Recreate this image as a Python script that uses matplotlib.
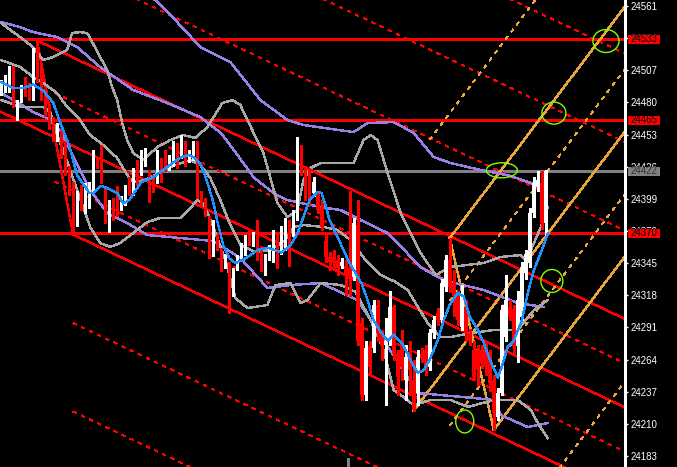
import matplotlib.pyplot as plt
import matplotlib.transforms as mtransforms
from matplotlib.patches import Ellipse, Rectangle

plt.rcParams["lines.antialiased"] = False
plt.rcParams["patch.antialiased"] = False

# --------------------------------------------------------------
# Candles (bar index = position, prices)
# --------------------------------------------------------------
opens = [24490, 24490, 24493, 24505, 24472, 24482, 24499, 24495, 24485, 24528,
         24507, 24489, 24475, 24465, 24450, 24453, 24444, 24423, 24408, 24379,
         24405, 24390, 24394, 24408, 24432, 24434, 24405, 24379, 24396, 24406,
         24392, 24396, 24412, 24406, 24427, 24422, 24430, 24419, 24417, 24415,
         24430, 24433, 24425, 24430, 24442, 24436, 24442, 24433, 24434, 24446,
         24404, 24396, 24383, 24353, 24366, 24354, 24343, 24343, 24321, 24341,
         24350, 24354, 24370, 24362, 24366, 24356, 24341, 24350, 24349, 24364,
         24356, 24359, 24379, 24370, 24384, 24440, 24423, 24415, 24404, 24404,
         24392, 24364, 24350, 24350, 24348, 24343, 24343, 24341, 24333, 24377,
         24295, 24234, 24275, 24274, 24310, 24286, 24276, 24280, 24308, 24269,
         24280, 24247, 24269, 24247, 24236, 24269, 24272, 24258, 24286, 24303,
         24297, 24325, 24348, 24328, 24317, 24291, 24308, 24286, 24272, 24272,
         24272, 24275, 24266, 24247, 24216, 24236, 24283, 24308, 24306, 24275,
         24300, 24337, 24345, 24387, 24409, 24412, 24379]
highs = [24499, 24503, 24511, 24511, 24482, 24495, 24501, 24496, 24526, 24532,
         24511, 24492, 24479, 24468, 24463, 24457, 24448, 24427, 24413, 24406,
         24411, 24412, 24413, 24440, 24434, 24444, 24408, 24398, 24400, 24410,
         24401, 24411, 24417, 24425, 24432, 24440, 24442, 24423, 24419, 24440,
         24433, 24440, 24436, 24448, 24446, 24453, 24448, 24440, 24448, 24448,
         24406, 24400, 24385, 24381, 24369, 24358, 24353, 24346, 24341, 24352,
         24362, 24369, 24373, 24371, 24381, 24359, 24353, 24360, 24373, 24369,
         24376, 24383, 24381, 24390, 24451, 24444, 24427, 24425, 24417, 24406,
         24398, 24369, 24354, 24356, 24352, 24349, 24348, 24406, 24383, 24398,
         24299, 24280, 24280, 24314, 24314, 24289, 24299, 24322, 24310, 24272,
         24289, 24276, 24280, 24264, 24272, 24274, 24276, 24290, 24301, 24307,
         24332, 24352, 24366, 24339, 24322, 24327, 24314, 24290, 24280, 24276,
         24276, 24280, 24272, 24251, 24240, 24310, 24335, 24314, 24310, 24322,
         24346, 24356, 24391, 24417, 24422, 24422, 24423]
lows = [24486, 24489, 24489, 24476, 24465, 24480, 24485, 24482, 24482, 24497,
        24482, 24469, 24458, 24448, 24448, 24433, 24419, 24402, 24369, 24376,
        24390, 24387, 24391, 24405, 24425, 24412, 24379, 24371, 24381, 24385,
        24390, 24394, 24402, 24402, 24411, 24419, 24427, 24396, 24405, 24412,
        24413, 24422, 24423, 24427, 24425, 24433, 24427, 24430, 24432, 24400,
        24393, 24385, 24349, 24351, 24356, 24338, 24341, 24303, 24317, 24339,
        24348, 24352, 24360, 24359, 24348, 24338, 24335, 24348, 24346, 24341,
        24353, 24356, 24343, 24368, 24381, 24419, 24398, 24393, 24401, 24387,
        24373, 24346, 24339, 24341, 24335, 24341, 24318, 24317, 24331, 24276,
        24230, 24230, 24253, 24270, 24280, 24264, 24226, 24276, 24264, 24234,
        24247, 24230, 24234, 24221, 24226, 24262, 24251, 24255, 24282, 24293,
        24295, 24322, 24321, 24301, 24293, 24289, 24280, 24276, 24247, 24243,
        24257, 24251, 24238, 24205, 24213, 24234, 24280, 24297, 24268, 24262,
        24297, 24332, 24342, 24384, 24406, 24374, 24369]
closes = [24495, 24500, 24507, 24480, 24480, 24492, 24486, 24485, 24522, 24500,
          24484, 24472, 24461, 24451, 24458, 24436, 24422, 24405, 24377, 24404,
          24394, 24405, 24410, 24436, 24427, 24415, 24383, 24394, 24385, 24387,
          24395, 24405, 24406, 24422, 24413, 24436, 24436, 24408, 24408, 24436,
          24417, 24425, 24429, 24442, 24427, 24450, 24430, 24436, 24446, 24402,
          24396, 24390, 24352, 24377, 24360, 24343, 24350, 24318, 24338, 24348,
          24358, 24366, 24363, 24369, 24350, 24341, 24350, 24358, 24369, 24345,
          24373, 24379, 24350, 24387, 24440, 24423, 24400, 24396, 24413, 24390,
          24375, 24350, 24346, 24345, 24341, 24346, 24335, 24332, 24379, 24280,
          24234, 24274, 24258, 24310, 24286, 24275, 24280, 24308, 24269, 24249,
          24258, 24266, 24255, 24222, 24266, 24265, 24255, 24286, 24297, 24297,
          24328, 24348, 24325, 24317, 24297, 24320, 24286, 24280, 24249, 24255,
          24261, 24258, 24244, 24219, 24236, 24306, 24314, 24300, 24275, 24314,
          24342, 24353, 24387, 24412, 24415, 24379, 24422]

# fast moving average (blue)
ma_bars = [0, 3, 5.5, 8, 10.5, 13, 15, 17, 19, 22, 23, 25, 26.5, 29, 30.5, 32, 35, 38,
           41.5, 45, 47, 48.5, 50, 51.5, 53, 54, 55.5, 57, 58.5, 61.5, 64, 66.5, 70,
           72, 74, 75.5, 77, 79, 80, 81, 82, 84, 85.5, 87, 90, 91.5, 93, 95, 96.5,
           98, 100, 101.5, 103, 104, 105.5, 107, 109, 110.5, 112, 114, 115.5, 117,
           119, 120.5, 122, 124, 125, 126.5, 128, 130, 131.5, 133, 135, 136.5]
ma_vals = [24497, 24492, 24492, 24495, 24490, 24480, 24461, 24444, 24419, 24404,
           24404, 24410, 24408, 24404, 24395, 24398, 24413, 24417, 24426, 24434,
           24436, 24433, 24427, 24413, 24396, 24380, 24360, 24349, 24345, 24350,
           24356, 24358, 24354, 24359, 24370, 24384, 24398, 24405, 24404, 24394,
           24381, 24367, 24356, 24345, 24328, 24314, 24297, 24286, 24280, 24285,
           24278, 24269, 24258, 24253, 24255, 24264, 24280, 24297, 24310, 24320,
           24317, 24300, 24289, 24278, 24264, 24249, 24258, 24275, 24280, 24297,
           24320, 24339, 24356, 24370]

# purple bands (upper / middle / lower)
pu_bars = [32.25, 38.5, 43.5, 49.75, 57.25, 64.75, 71.5, 75.5, 88, 91.5, 98, 103,
           108, 112.25, 119.75, 127.25, 132.25, 136]
pu_vals = [24578.6, 24566, 24549.2, 24526.5, 24513.9, 24482, 24465.2, 24461,
           24455.1, 24462.7, 24463.5, 24454.3, 24434.1, 24429.1, 24423.2, 24418.2,
           24412.3, 24408.1]
pm_bars = [0, 4.75, 8, 14, 19, 24.75, 33, 41.5, 49.75, 55, 59, 63, 68, 71.5, 79.75,
           84.75, 89.75, 96.5, 104.75, 109, 112.25, 120.5, 129, 135.5]
pm_vals = [24547.5, 24543.3, 24539.1, 24534.9, 24526.5, 24509.7, 24490.4, 24479.5,
           24467.7, 24454, 24436, 24417.3, 24403.9, 24398, 24392.1, 24389.6, 24381.2,
           24370.3, 24341.7, 24333.3, 24329.1, 24322.4, 24311.5, 24308.1]
pl_bars = [0, 4, 8, 11.5, 14.75, 18.5, 22.25, 26.5, 31.5, 36.5, 44.75, 53, 59.75,
           66.5, 72.25, 79.75, 89, 95.5, 104, 109.75, 118, 123, 124.75, 131.5, 136.5]
pl_vals = [24487.9, 24480.3, 24471.9, 24466.9, 24456.8, 24431.6, 24406.4, 24387.1,
           24378.7, 24368.6, 24366.1, 24363.6, 24349.3, 24324.1, 24326.6, 24328.3,
           24314, 24280.4, 24235.9, 24234.2, 24231.7, 24230, 24217.4, 24207.3,
           24210.7]

# gray bands (upper / middle / lower)
gu_bars = [0, 4.75, 8, 10.5, 13, 16.5, 17.75, 19.75, 21.5, 22.75, 24.75, 26.5, 27.75,
           29, 30.25, 31.5, 33, 35.5, 39, 42.25, 45.5, 48.5, 51.5, 55.25, 57.75,
           59.75, 61.5, 65.5, 69, 71.5, 74, 75.5, 77.25, 79.75, 88, 90.5, 92.25, 94,
           96.5, 99.75, 104.75, 108.5, 112.25, 120.5, 124.75, 129.75, 131, 132.25,
           134.75, 136.5]
gu_vals = [24546.7, 24534.9, 24526.5, 24515.6, 24518.1, 24524.0, 24538.3, 24539.1,
           24538.3, 24530.8, 24518.1, 24507.2, 24492.9, 24482.0, 24462.7, 24448.4,
           24437.5, 24431.6, 24442.5, 24448.4, 24452.6, 24450.1, 24459.3, 24479.5,
           24482.0, 24477.8, 24465.2, 24437.5, 24395.5, 24383.7, 24389.6, 24414.8,
           24424.9, 24429.1, 24429.1, 24448.4, 24452.6, 24448.4, 24420.7, 24387.1,
           24353.5, 24335.0, 24341.8, 24345.1, 24350.2, 24351.8, 24347.6, 24356.0,
           24375.3, 24392.2]
gm_bars = [0, 4.75, 8, 10.5, 14, 16.5, 19.75, 22.25, 25.5, 29, 31.5, 33, 36, 39.75,
           43.5, 47.25, 49.75, 52.25, 54.75, 57.25, 59.75, 63.5, 67.25, 71, 73, 75.5,
           80.5, 84, 87.25, 91, 94.75, 98.5, 101.5, 106.5, 109.75, 112.25, 117.25,
           123, 129, 133, 136.5]
gm_vals = [24515.6, 24509.8, 24501.4, 24496.3, 24487.9, 24476.1, 24465.2, 24452.6,
           24444.2, 24433.3, 24419.0, 24413.2, 24414.8, 24421.5, 24427.4, 24431.6,
           24427.4, 24416.5, 24398.0, 24377.0, 24360.2, 24354.3, 24356.0, 24364.4,
           24375.4, 24377.0, 24375.4, 24372.8, 24364.4, 24347.6, 24335.0, 24329.2,
           24322.4, 24294.7, 24282.9, 24282.9, 24286.3, 24288.8, 24288.8, 24305.6,
           24314.0]
gl_bars = [0, 2.25, 4.75, 10.5, 12.25, 14, 15.5, 19, 22.25, 24.75, 27.25, 29.75, 33,
           36.5, 39.75, 44.75, 47.25, 49, 50.5, 53, 56, 58.5, 61.5, 66.5, 68.5, 72.25,
           74.75, 76.5, 79.75, 84.75, 88.5, 92.25, 95.5, 98, 100.5, 103, 107.25,
           112.25, 116.5, 123, 129, 132.25, 134, 136.5]
gl_vals = [24482.0, 24479.5, 24476.1, 24476.1, 24472.0, 24452.6, 24440.0, 24406.4,
           24375.4, 24361.9, 24358.6, 24361.9, 24370.3, 24379.5, 24382.9, 24382.9,
           24391.3, 24398.0, 24395.5, 24375.4, 24347.6, 24315.7, 24307.3, 24309.8,
           24326.6, 24328.3, 24311.5, 24314.0, 24328.3, 24326.6, 24320.8, 24297.2,
           24272.0, 24238.4, 24232.5, 24225.8, 24230.0, 24230.0, 24224.2, 24230.0,
           24230.0, 24221.6, 24210.7, 24198.0]

# horizontal levels
red_levels = [24533, 24465, 24370]
last_price = 24422

# down channel (red): top pivot, bottom pivot, slope per bar
red_top = (9, 24532)
red_bottom = (18, 24369)
red_slope = -1.594

# up pitchfork (orange): handle, upper pivot, lower pivot
pf_handle = (103, 24221)
pf_upper = (112, 24366)
pf_lower = (123, 24205)

# green marks
ell_x = [151, 138, 125, 137.5, 115.75]
ell_y = [24531.6, 24471, 24423, 24330, 24212]
ell_w = [6.5, 6.0, 7.75, 5.5, 4.5]
ell_h = [19.3, 18.5, 12.6, 19.3, 19.3]

# session separator stub at the bottom
separator_bar = 86.5

axis_ticks = [24561 - 27 * k for k in range(15)]

RED = "#ff0000"
ORANGE = "#e9a53a"
PURPLE = "#9a80e6"
GRAY = "#a8a8a8"
BLUE = "#1e90ff"
GREEN = "#80ff00"

# --------------------------------------------------------------
# Figure
# --------------------------------------------------------------
fig = plt.figure(figsize=(6.77, 4.67), dpi=100, facecolor="black")
ax = fig.add_axes([0, 0, 625 / 677, 1])
ax.set_facecolor("black")
x_end = 155.75
ax.set_xlim(-0.25, x_end)
ax.set_ylim(24173.76, 24566.04)

for v in red_levels:
    ax.axhline(v, color=RED, lw=1, zorder=1)
ax.axhline(last_price, color="#808080", lw=1, zorder=1)
ax.axvline(separator_bar, ymin=0, ymax=0.018, color="#808080", lw=1, zorder=1)

# red channel
dash = (0, (2.2, 4.0))
gap = (red_top[1] - red_bottom[1]) + red_slope * (red_bottom[0] - red_top[0])
q = gap / 4
for k, ls, start in [(-6, dash, 9), (-4, dash, 9), (-2, dash, 9), (0, "-", 9),
                     (1, dash, 13.5), (2, "-", -1), (3, dash, 13.5), (4, "-", 18),
                     (6, dash, 18), (8, dash, 18)]:
    y0 = red_top[1] + red_slope * (start - red_top[0]) - k * q
    y1 = red_top[1] + red_slope * (x_end - red_top[0]) - k * q
    ax.plot([start, x_end], [y0, y1], color=RED, lw=1, linestyle=ls, zorder=2)
ax.plot([red_top[0], red_bottom[0]], [red_top[1], red_bottom[1]], color=RED, lw=1, zorder=2)

# orange pitchfork
mid = ((pf_upper[0] + pf_lower[0]) / 2, (pf_upper[1] + pf_lower[1]) / 2)
s = (mid[1] - pf_handle[1]) / (mid[0] - pf_handle[0])
half = (pf_upper[1] - pf_handle[1] - s * (pf_upper[0] - pf_handle[0])) / 2
for h, ls, start in [(4, dash, 107), (2, "-", 112), (1, dash, 112), (0, "-", 103),
                     (-1, dash, 112), (-2, "-", 123), (-4, dash, 123)]:
    y0 = pf_handle[1] + s * (start - pf_handle[0]) + h * half
    y1 = pf_handle[1] + s * (x_end - pf_handle[0]) + h * half
    ax.plot([start, x_end], [y0, y1], color=ORANGE, lw=1, linestyle=ls, zorder=2)
ax.plot([pf_upper[0], pf_lower[0]], [pf_upper[1], pf_lower[1]], color=ORANGE, lw=1, zorder=2)

# bands
for bx, by, c in [(pu_bars, pu_vals, PURPLE), (pm_bars, pm_vals, PURPLE),
                  (pl_bars, pl_vals, PURPLE), (gu_bars, gu_vals, GRAY),
                  (gm_bars, gm_vals, GRAY), (gl_bars, gl_vals, GRAY)]:
    ax.plot(bx, by, color=c, lw=1, zorder=3)

# candles
bars = list(range(len(closes)))
cols = ["white" if c >= o else RED for o, c in zip(opens, closes)]
ax.vlines(bars, lows, highs, colors=cols, lw=1, zorder=4)
bottoms = [min(o, c) for o, c in zip(opens, closes)]
heights = [max(abs(c - o), 0.9) for o, c in zip(opens, closes)]
ax.bar(bars, heights, bottom=bottoms, width=0.75, color=cols, linewidth=0, zorder=4)

ax.plot(ma_bars, ma_vals, color=BLUE, lw=1, zorder=5)

for ex, ey, ew, eh in zip(ell_x, ell_y, ell_w, ell_h):
    ax.add_patch(Ellipse((ex, ey), ew, eh, fill=False, edgecolor=GREEN, lw=1,
                         antialiased=True, zorder=6))

# --------------------------------------------------------------
# Price axis
# --------------------------------------------------------------
for side in ["left", "top", "bottom"]:
    ax.spines[side].set_visible(False)
ax.spines["right"].set_color("white")
ax.set_xticks([])
ax.yaxis.tick_right()
ax.set_yticks(axis_ticks)
ax.set_yticklabels([str(t) for t in axis_ticks])
ax.tick_params(axis="y", colors="white", length=2.5, width=1, pad=1.5,
               labelsize=7)
for lab in ax.get_yticklabels():
    lab.set_fontfamily("Liberation Sans")

tr = mtransforms.blended_transform_factory(fig.transFigure, ax.transData)
box_h = 9.5 * 0.84
for v, fc, tc in [(24533, RED, "black"), (24465, RED, "black"),
                  (24370, RED, "black"), (last_price, "#808080", "#303030")]:
    fig.add_artist(Rectangle((628 / 677, v - box_h / 2), 32 / 677, box_h,
                             transform=tr, facecolor=fc, edgecolor="none", zorder=5))
    fig.text(644 / 677, v, str(v), transform=tr, color=tc, fontsize=7,
             family="Liberation Sans", ha="center", va="center", zorder=6)

fig.savefig("out.png", dpi=100, facecolor="black")
